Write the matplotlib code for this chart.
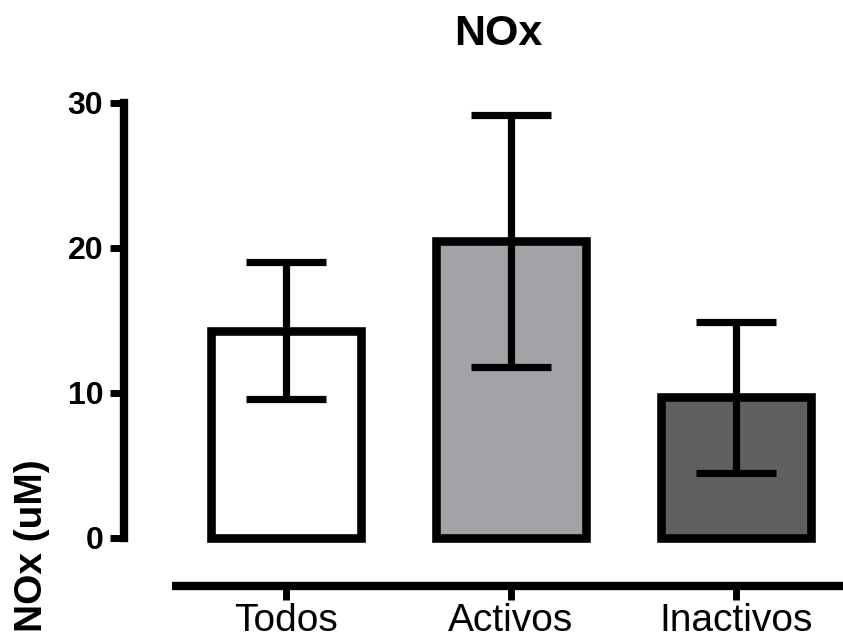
import matplotlib
matplotlib.use("Agg")
import matplotlib.pyplot as plt

# NOx by group: mean and SD
groups = ["Todos", "Activos", "Inactivos"]
means = [14.3, 20.5, 9.7]
errors = [4.7, 8.7, 5.2]
fills = ["#ffffff", "#a3a2a7", "#606060"]
yticks = [0, 10, 20, 30]

plt.rcParams["font.family"] = ["Liberation Sans", "DejaVu Sans"]

fig = plt.figure(figsize=(8.43, 6.42), dpi=100, facecolor="w")
ax = fig.add_axes([0.1471, 0.162, 0.8529, 0.6776])

# spines first: moving a spine resets the tick objects
for s in ["top", "right"]:
    ax.spines[s].set_visible(False)
ax.spines["left"].set_linewidth(6)
ax.spines["bottom"].set_linewidth(6)
ax.spines["bottom"].set_position(("outward", 34.6))
ax.spines["bottom"].set_capstyle("butt")

x = list(range(len(groups)))
bars = ax.bar(x, means, width=0.667, color=fills, edgecolor="black",
              linewidth=6.2, zorder=2)
for b in bars:
    b.set_clip_on(False)
    b.set_joinstyle("miter")

eb = ax.errorbar(x, means, yerr=errors, fmt="none", ecolor="black",
                 elinewidth=5.2, capsize=29, capthick=5.2, zorder=3)
for part in eb.lines[1] + eb.lines[2]:
    part.set_clip_on(False)

ax.set_xlim(-0.72, 2.4756)
ax.set_ylim(0, 30)
ax.spines["left"].set_bounds(0, 30)
ax.spines["bottom"].set_bounds(-0.507, 2.4756)

ax.set_yticks(yticks)
ax.set_yticklabels([str(t) for t in yticks], fontsize=23, fontweight="bold")
ax.set_xticks(x)
ax.set_xticklabels(groups, fontsize=28)

ax.tick_params(axis="y", direction="out", length=10, width=5, pad=5)
ax.tick_params(axis="x", direction="out", length=10, width=5, pad=2)

ax.set_title("NOx", fontsize=31, fontweight="bold", x=0.52, pad=42)
fig.text(32 / 843, 1 - 546 / 642, "NOx (uM)", rotation=90, fontsize=28,
         fontweight="bold", ha="center", va="center")

plt.savefig("out.png", dpi=100)
